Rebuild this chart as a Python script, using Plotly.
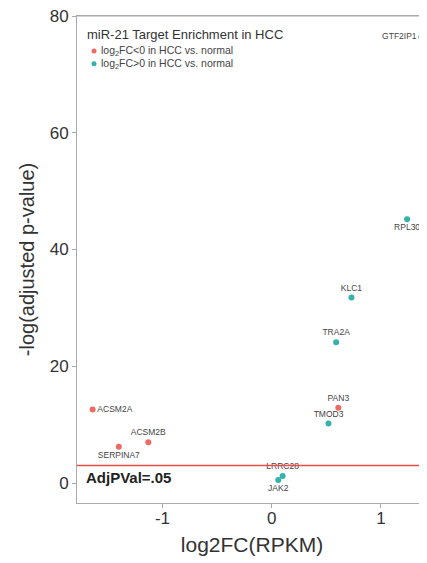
import plotly.graph_objects as go

genes = ["GTF2IP1", "RPL30", "KLC1", "TRA2A", "PAN3", "TMOD3",
         "ACSM2A", "ACSM2B", "SERPINA7", "LRRC28", "JAK2"]
log2fc = [1.37, 1.24, 0.73, 0.59, 0.61, 0.52, -1.64, -1.13, -1.40, 0.10, 0.06]
neglogp = [76.4, 45.2, 31.8, 24.1, 12.9, 10.2, 12.6, 7.0, 6.2, 1.2, 0.5]
direction = ["up", "up", "up", "up", "down", "up", "down", "down", "down", "up", "up"]
label_pos = ["middle left", "bottom center", "top center", "top center", "top center",
             "top center", "middle right", "top center", "bottom center",
             "top center", "bottom center"]

threshold = 3.0
x_ticks = [-1, 0, 1]
y_ticks = [0, 20, 40, 60, 80]
legend_title = "miR-21 Target Enrichment in HCC"

groups = [
    ("down", "log<sub>2</sub>FC&lt;0 in HCC vs. normal", "#EE6A63"),
    ("up", "log<sub>2</sub>FC&gt;0 in HCC vs. normal", "#33B3AB"),
]

FONT = "Liberation Sans, Arial, sans-serif"

fig = go.Figure()
for key, name, color in groups:
    idx = [i for i, d in enumerate(direction) if d == key]
    fig.add_trace(go.Scatter(
        x=[log2fc[i] for i in idx],
        y=[neglogp[i] for i in idx],
        text=[genes[i] for i in idx],
        textposition=[label_pos[i] for i in idx],
        mode="markers+text",
        name=name,
        marker=dict(color=color, size=6),
        textfont=dict(family=FONT, size=8.5, color="#444444"),
        cliponaxis=False,
        showlegend=False,
    ))

# panel top border
fig.add_shape(type="line", xref="paper", x0=0, x1=1, yref="paper", y0=1, y1=1,
              line=dict(color="#AAAAAA", width=1), layer="above")

# threshold line
fig.add_shape(type="line", xref="paper", x0=0, x1=1, yref="y", y0=threshold, y1=threshold,
              line=dict(color="#E8504A", width=1.5), layer="above")
fig.add_annotation(x=0.02, xref="paper", y=0.9, yref="y", text="<b>AdjPVal=.05</b>",
                   showarrow=False, xanchor="left", yanchor="middle",
                   font=dict(family=FONT, size=15, color="#222222"))

# in-panel legend (compact, like the reference)
fig.add_annotation(x=0.0286, xref="paper", y=0.963, yref="paper", text=legend_title,
                   showarrow=False, xanchor="left", yanchor="middle", xshift=-2,
                   font=dict(family=FONT, size=13, color="#333333"))
leg_y = [0.928, 0.902]
for (key, name, color), ly in zip(groups, leg_y):
    fig.add_shape(type="circle", xref="paper", yref="paper",
                  xsizemode="pixel", ysizemode="pixel", xanchor=0.0486, yanchor=ly,
                  x0=-2.5, x1=2.5, y0=-2.5, y1=2.5,
                  fillcolor=color, line=dict(width=0))
    fig.add_annotation(x=0.0629, xref="paper", y=ly, yref="paper", text=name,
                       showarrow=False, xanchor="left", yanchor="middle", xshift=0,
                       font=dict(family=FONT, size=10.5, color="#444444"))

axis_font = dict(family=FONT, size=17, color="#333333")
fig.update_layout(
    width=419, height=555,
    margin=dict(l=69, r=0, t=8, b=60, autoexpand=False),
    plot_bgcolor="white", paper_bgcolor="white",
    font=dict(family=FONT),
    showlegend=False,
    xaxis=dict(
        range=[-1.783, 1.422], tickvals=x_ticks, ticktext=[str(v) for v in x_ticks],
        showgrid=False, zeroline=False, showline=True, linecolor="#AAAAAA", linewidth=1,
        mirror=True, ticks="outside", ticklen=4, tickcolor="#AAAAAA",
        tickfont=axis_font, automargin=True, ticklabelstandoff=-4,
        title=dict(text="log2FC(RPKM)", font=dict(size=21, color="#333333"), standoff=9),
    ),
    yaxis=dict(
        range=[-3.42, 80], tickvals=y_ticks, ticktext=[str(v) for v in y_ticks],
        showgrid=False, zeroline=False, showline=True, linecolor="#AAAAAA", linewidth=1,
        ticks="outside", ticklen=4, tickcolor="#AAAAAA", ticklabeloverflow="allow",
        tickfont=axis_font, automargin=True,
        title=dict(text="-log(adjusted p-value)", font=dict(size=20, color="#333333"), standoff=9),
    ),
)

fig.write_html("out.html")
